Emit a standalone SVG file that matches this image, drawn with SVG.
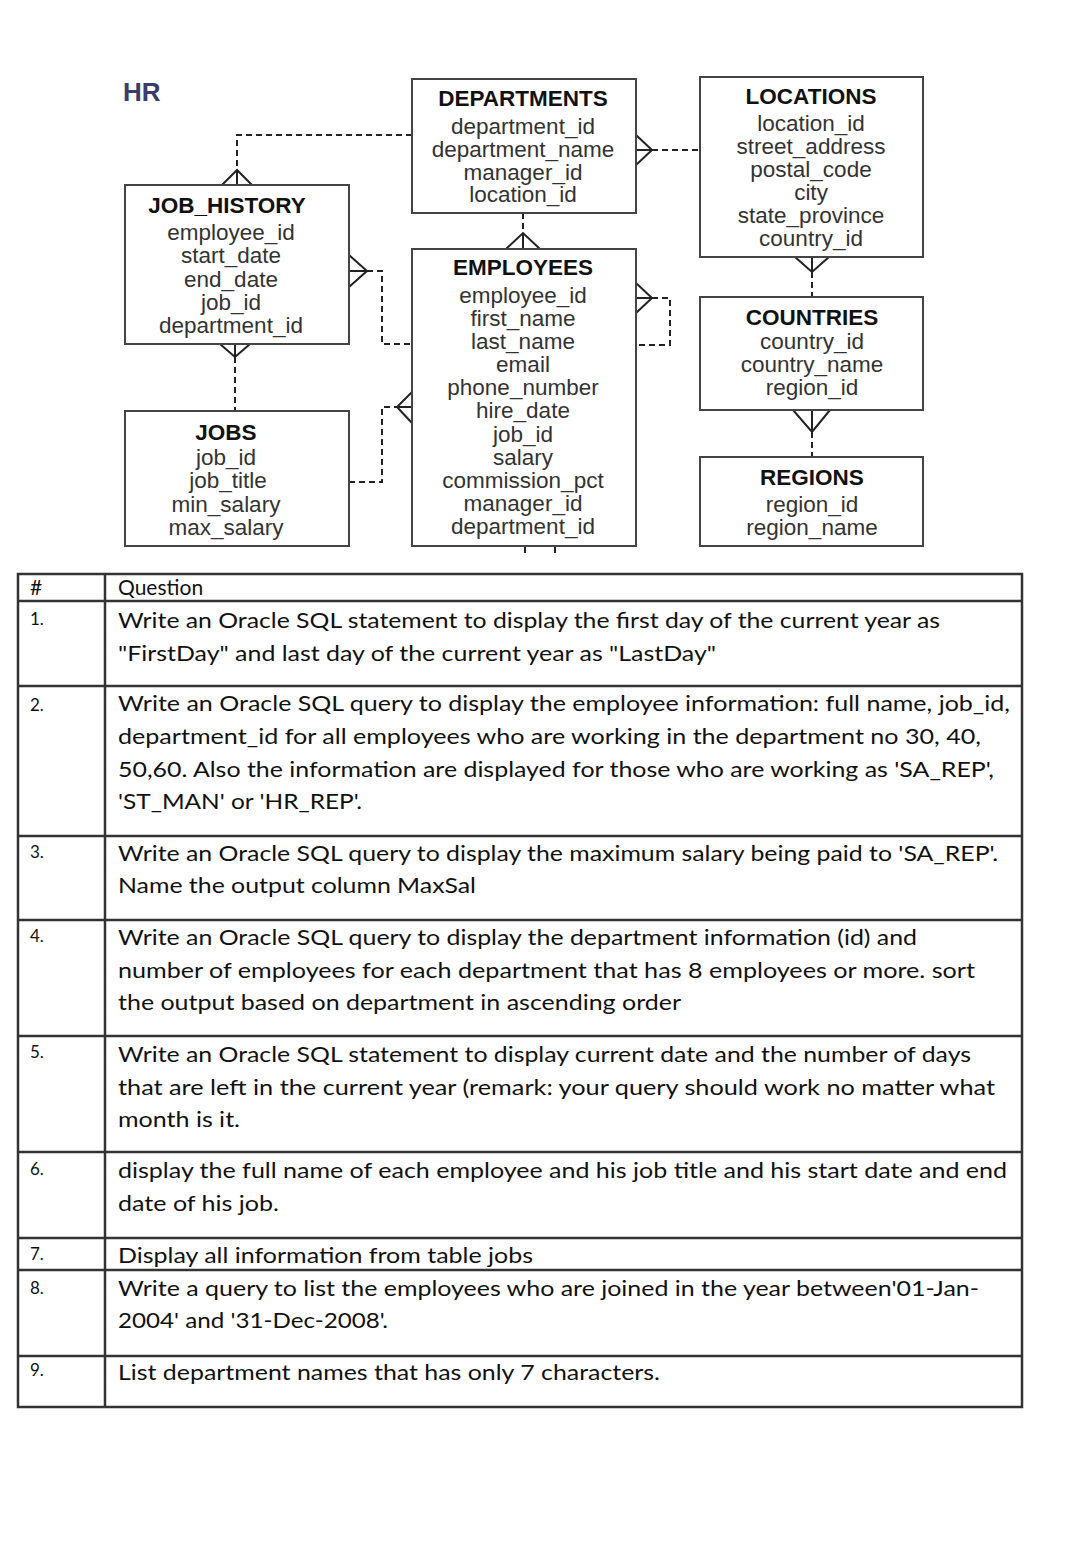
<svg xmlns="http://www.w3.org/2000/svg" width="1080" height="1544" viewBox="0 0 1080 1544">
<style>
.box{fill:#fff;stroke:#444;stroke-width:2}
.t{font-family:"Liberation Sans",Arial,sans-serif;font-size:22.5px;font-weight:bold;fill:#111;text-anchor:middle}
.f{font-family:"Liberation Sans",Arial,sans-serif;font-size:22.5px;fill:#333;text-anchor:middle}
.dash{fill:none;stroke:#222;stroke-width:2;stroke-dasharray:6 4}
.crow{fill:none;stroke:#222;stroke-width:2}
.grid{stroke:#333;stroke-width:2.5;fill:none}
.q{font-family:Lato,"Liberation Sans",sans-serif;font-size:21px;fill:#111}
.n{font-family:Lato,"Liberation Sans",sans-serif;font-size:17px;fill:#111}
</style>
<rect width="1080" height="1544" fill="#fff"/>
<text x="123" y="101" font-family="Liberation Sans,Arial,sans-serif" font-size="26" font-weight="bold" fill="#3b3b6d">HR</text>

<g id="connectors">
<path class="dash" d="M412,135 H237 V170"/>
<path class="crow" d="M222,185 L237,170 L252,185 M237,170 V185"/>
<path class="dash" d="M652,150 H700"/>
<path class="crow" d="M636,135 L652,150 L636,165 M636,150 H652"/>
<path class="dash" d="M523,213 V233"/>
<path class="crow" d="M506,249 L523,233 L540,249 M523,233 V249"/>
<path class="dash" d="M367,271 H382 V344 H412"/>
<path class="crow" d="M349,255 L367,271 L349,287 M349,271 H367"/>
<path class="dash" d="M349,482 H382 V407 H397"/>
<path class="crow" d="M412,392 L397,407 L412,423 M397,407 H412"/>
<path class="dash" d="M235,357 V411"/>
<path class="crow" d="M220,344 L235,357 L250,344 M235,344 V357"/>
<path class="dash" d="M652,298 H670 V345 H636"/>
<path class="crow" d="M636,283 L652,298 L636,313 M636,298 H652"/>
<path class="dash" d="M812,272 V297"/>
<path class="crow" d="M795,257 L812,272 L829,257 M812,257 V272"/>
<path class="dash" d="M812,432 V457"/>
<path class="crow" d="M793,410 L812,432 L830,410 M812,410 V432"/>
<path class="crow" d="M525,546 V553 M555,546 V553"/>
</g>

<g id="departments">
<rect class="box" x="412" y="79" width="224" height="134"/>
<text class="t" x="523" y="106">DEPARTMENTS</text>
<text class="f" x="523" y="134">department_id</text>
<text class="f" x="523" y="157">department_name</text>
<text class="f" x="523" y="180">manager_id</text>
<text class="f" x="523" y="202">location_id</text>
</g>

<g id="locations">
<rect class="box" x="700" y="77" width="223" height="180"/>
<text class="t" x="811" y="104">LOCATIONS</text>
<text class="f" x="811" y="131">location_id</text>
<text class="f" x="811" y="154">street_address</text>
<text class="f" x="811" y="177">postal_code</text>
<text class="f" x="811" y="200">city</text>
<text class="f" x="811" y="223">state_province</text>
<text class="f" x="811" y="246">country_id</text>
</g>

<g id="job_history">
<rect class="box" x="125" y="185" width="224" height="159"/>
<text class="t" x="227" y="213">JOB_HISTORY</text>
<text class="f" x="231" y="240">employee_id</text>
<text class="f" x="231" y="263">start_date</text>
<text class="f" x="231" y="287">end_date</text>
<text class="f" x="231" y="310">job_id</text>
<text class="f" x="231" y="333">department_id</text>
</g>

<g id="employees">
<rect class="box" x="412" y="249" width="224" height="297"/>
<text class="t" x="523" y="275">EMPLOYEES</text>
<text class="f" x="523" y="303">employee_id</text>
<text class="f" x="523" y="326">first_name</text>
<text class="f" x="523" y="349">last_name</text>
<text class="f" x="523" y="372">email</text>
<text class="f" x="523" y="395">phone_number</text>
<text class="f" x="523" y="418">hire_date</text>
<text class="f" x="523" y="442">job_id</text>
<text class="f" x="523" y="465">salary</text>
<text class="f" x="523" y="488">commission_pct</text>
<text class="f" x="523" y="511">manager_id</text>
<text class="f" x="523" y="534">department_id</text>
</g>

<g id="jobs">
<rect class="box" x="125" y="411" width="224" height="135"/>
<text class="t" x="226" y="440">JOBS</text>
<text class="f" x="226" y="465">job_id</text>
<text class="f" x="228" y="488">job_title</text>
<text class="f" x="226" y="512">min_salary</text>
<text class="f" x="226" y="535">max_salary</text>
</g>

<g id="countries">
<rect class="box" x="700" y="297" width="223" height="113"/>
<text class="t" x="812" y="325">COUNTRIES</text>
<text class="f" x="812" y="349">country_id</text>
<text class="f" x="812" y="372">country_name</text>
<text class="f" x="812" y="395">region_id</text>
</g>

<g id="regions">
<rect class="box" x="700" y="457" width="223" height="89"/>
<text class="t" x="812" y="485">REGIONS</text>
<text class="f" x="812" y="512">region_id</text>
<text class="f" x="812" y="535">region_name</text>
</g>

<g id="table">
<rect class="grid" x="18" y="574" width="1004" height="833"/>
<path class="grid" d="M105,574 V1407 M18,601 H1022 M18,686 H1022 M18,836 H1022 M18,920 H1022 M18,1036 H1022 M18,1152 H1022 M18,1238 H1022 M18,1270 H1022 M18,1356 H1022"/>
<text class="q" x="30" y="595" font-size="20">#</text>
<text class="q" x="118" y="595" font-size="20">Question</text>

<text class="n" x="30" y="625">1.</text>
<text class="q" x="118" y="628" textLength="822" lengthAdjust="spacingAndGlyphs">Write an Oracle SQL statement to display the first day of the current year as</text>
<text class="q" x="118" y="661" textLength="598" lengthAdjust="spacingAndGlyphs">"FirstDay" and last day of the current year as "LastDay"</text>

<text class="n" x="30" y="711">2.</text>
<text class="q" x="118" y="711" textLength="892" lengthAdjust="spacingAndGlyphs">Write an Oracle SQL query to display the employee information: full name, job_id,</text>
<text class="q" x="118" y="744" textLength="863" lengthAdjust="spacingAndGlyphs">department_id for all employees who are working in the department no 30, 40,</text>
<text class="q" x="118" y="777" textLength="876" lengthAdjust="spacingAndGlyphs">50,60. Also the information are displayed for those who are working as 'SA_REP',</text>
<text class="q" x="118" y="809" textLength="244" lengthAdjust="spacingAndGlyphs">'ST_MAN' or 'HR_REP'.</text>

<text class="n" x="30" y="858">3.</text>
<text class="q" x="118" y="861" textLength="880" lengthAdjust="spacingAndGlyphs">Write an Oracle SQL query to display the maximum salary being paid to 'SA_REP'.</text>
<text class="q" x="118" y="893" textLength="358" lengthAdjust="spacingAndGlyphs">Name the output column MaxSal</text>

<text class="n" x="30" y="942">4.</text>
<text class="q" x="118" y="945" textLength="799" lengthAdjust="spacingAndGlyphs">Write an Oracle SQL query to display the department information (id) and</text>
<text class="q" x="118" y="978" textLength="857" lengthAdjust="spacingAndGlyphs">number of employees for each department that has 8 employees or more. sort</text>
<text class="q" x="118" y="1010" textLength="563" lengthAdjust="spacingAndGlyphs">the output based on department in ascending order</text>

<text class="n" x="30" y="1058">5.</text>
<text class="q" x="118" y="1062" textLength="853" lengthAdjust="spacingAndGlyphs">Write an Oracle SQL statement to display current date and the number of days</text>
<text class="q" x="118" y="1095" textLength="877" lengthAdjust="spacingAndGlyphs">that are left in the current year (remark: your query should work no matter what</text>
<text class="q" x="118" y="1127" textLength="122" lengthAdjust="spacingAndGlyphs">month is it.</text>

<text class="n" x="30" y="1175">6.</text>
<text class="q" x="118" y="1178" textLength="889" lengthAdjust="spacingAndGlyphs">display the full name of each employee and his job title and his start date and end</text>
<text class="q" x="118" y="1211" textLength="161" lengthAdjust="spacingAndGlyphs">date of his job.</text>

<text class="n" x="30" y="1260">7.</text>
<text class="q" x="118" y="1263" textLength="415" lengthAdjust="spacingAndGlyphs">Display all information from table jobs</text>

<text class="n" x="30" y="1294">8.</text>
<text class="q" x="118" y="1296" textLength="861" lengthAdjust="spacingAndGlyphs">Write a query to list the employees who are joined in the year between'01-Jan-</text>
<text class="q" x="118" y="1328" textLength="270" lengthAdjust="spacingAndGlyphs">2004' and '31-Dec-2008'.</text>

<text class="n" x="30" y="1376">9.</text>
<text class="q" x="118" y="1380" textLength="542" lengthAdjust="spacingAndGlyphs">List department names that has only 7 characters.</text>
</g>
</svg>
